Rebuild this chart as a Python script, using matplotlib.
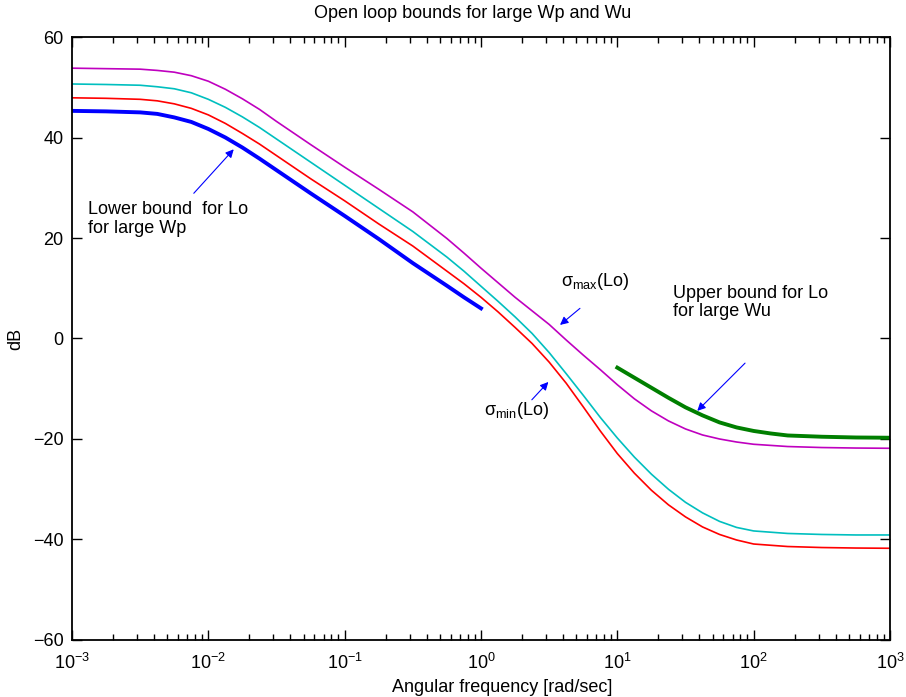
import matplotlib
matplotlib.use("Agg")
import matplotlib.pyplot as plt
from matplotlib.ticker import NullFormatter

plt.rcParams['font.family'] = ['Liberation Sans', 'DejaVu Sans']
plt.rcParams['mathtext.fontset'] = 'custom'
plt.rcParams['mathtext.rm'] = 'Liberation Sans'
plt.rcParams['mathtext.it'] = 'Liberation Sans:italic'
plt.rcParams['mathtext.bf'] = 'Liberation Sans:bold'

# log10 of frequency [rad/sec], shared by the singular value curves
log_w = [-3, -2.75, -2.5, -2.375, -2.25, -2.125, -2, -1.875, -1.75, -1.625,
         -1.5, -1.25, -1, -0.75, -0.5, -0.25, -0.125, 0, 0.125, 0.25, 0.375,
         0.5, 0.625, 0.75, 0.875, 1, 1.125, 1.25, 1.375, 1.5, 1.625, 1.75,
         1.875, 2, 2.25, 2.5, 2.75, 3]

# sigma_max(Lo) [dB]
sv_max = [53.8, 53.7, 53.6, 53.35, 53.0, 52.3, 51.2, 49.6, 47.7, 45.6,
          43.2, 38.6, 34.1, 29.7, 25.2, 19.9, 17.0, 14.0, 11.1, 8.2, 5.5,
          2.8, -0.3, -3.3, -6.2, -9.2, -12.0, -14.4, -16.4, -18.0, -19.2,
          -20.0, -20.6, -21.05, -21.5, -21.7, -21.8, -21.85]
# middle singular value [dB]
sv_mid = [50.65, 50.55, 50.4, 50.1, 49.7, 48.9, 47.6, 46.0, 44.1, 42.0,
          39.7, 35.1, 30.5, 25.9, 21.3, 16.2, 13.4, 10.4, 7.4, 4.3, 1.0,
          -2.8, -7.0, -11.3, -15.7, -19.8, -23.6, -27.0, -30.0, -32.6, -34.7,
          -36.4, -37.6, -38.3, -38.8, -39.0, -39.1, -39.1]
# sigma_min(Lo) [dB]
sv_min = [47.9, 47.8, 47.6, 47.3, 46.7, 45.8, 44.5, 42.8, 40.8, 38.7,
          36.4, 31.8, 27.4, 22.8, 18.4, 13.4, 10.9, 8.2, 5.3, 2.2, -1.0,
          -4.7, -8.9, -13.6, -18.4, -22.9, -26.8, -30.2, -33.1, -35.5, -37.5,
          -39.0, -40.1, -40.9, -41.4, -41.6, -41.7, -41.75]

# lower bound for Lo, large Wp (up to 1 rad/sec)
log_w_low = log_w[:18]
lower = [45.3, 45.2, 45.0, 44.7, 44.0, 43.1, 41.7, 40.0, 38.0, 35.8,
         33.5, 28.9, 24.4, 19.8, 15.0, 10.5, 8.2, 6.0]

# upper bound for Lo, large Wu (from 10 rad/sec)
log_w_up = [1, 1.125, 1.25, 1.375, 1.5, 1.625, 1.75, 1.875, 2, 2.125, 2.25,
            2.5, 2.75, 3]
upper = [-5.8, -7.8, -9.8, -11.8, -13.7, -15.3, -16.7, -17.7, -18.4, -18.9,
         -19.3, -19.55, -19.7, -19.75]

w = [10 ** e for e in log_w]
w_low = [10 ** e for e in log_w_low]
w_up = [10 ** e for e in log_w_up]

fs = 13

fig = plt.figure(figsize=(9.06, 6.97), dpi=100)
ax = fig.add_axes([0.0795, 0.0818, 0.9028, 0.8651])

ax.semilogx(w, sv_max, color='#bf00bf', lw=1.2)
ax.semilogx(w, sv_mid, color='#00bfbf', lw=1.2)
ax.semilogx(w, sv_min, color='r', lw=1.2)
ax.semilogx(w_low, lower, color='b', lw=2.8)
ax.semilogx(w_up, upper, color='#007f00', lw=2.8)

ax.set_xlim(1e-3, 1e3)
ax.set_ylim(-60, 60)
ax.set_yticks([-60, -40, -20, 0, 20, 40, 60])
ax.xaxis.set_minor_formatter(NullFormatter())

ax.tick_params(which='both', direction='in', top=True, right=True,
               labelsize=fs, width=1.0)
ax.tick_params(axis='x', which='major', pad=9)
ax.tick_params(axis='y', which='major', pad=6)
ax.tick_params(which='major', length=7)
ax.tick_params(which='minor', length=4)
for s in ax.spines.values():
    s.set_linewidth(1.3)

fig.text(0.522, 0.980, 'Open loop bounds for large Wp and Wu', fontsize=fs,
         ha='center', va='center')
ax.set_xlabel('Angular frequency [rad/sec]', fontsize=fs)
ax.xaxis.set_label_coords(0.5257, -0.064)
ax.set_ylabel('dB', fontsize=fs)
ax.yaxis.set_label_coords(-0.058, 0.5)

arrow = dict(arrowstyle='-|>', color='b', lw=0.8, mutation_scale=12,
             shrinkA=0, shrinkB=0)

ax.text(0.00131, 23.8, 'Lower bound  for Lo\nfor large Wp', fontsize=fs,
        va='center', ha='left', linespacing=1.1)
ax.annotate('', xy=(0.01535, 37.65), xytext=(0.00782, 28.9), arrowprops=arrow)

ax.text(3.87, 10.45, 'σ$_{\\rm max}$(Lo)', fontsize=fs, va='baseline', ha='left')
ax.annotate('', xy=(3.80, 2.7), xytext=(5.32, 6.0), arrowprops=arrow)

ax.text(1.05, -15.2, 'σ$_{\\rm min}$(Lo)', fontsize=fs, va='baseline', ha='left')
ax.annotate('', xy=(3.12, -8.65), xytext=(2.36, -12.2), arrowprops=arrow)

ax.text(25.5, 7.1, 'Upper bound for Lo\nfor large Wu', fontsize=fs,
        va='center', ha='left', linespacing=1.1)
ax.annotate('', xy=(38.6, -14.4), xytext=(86.5, -4.9), arrowprops=arrow)

fig.savefig('out.png', dpi=100)
